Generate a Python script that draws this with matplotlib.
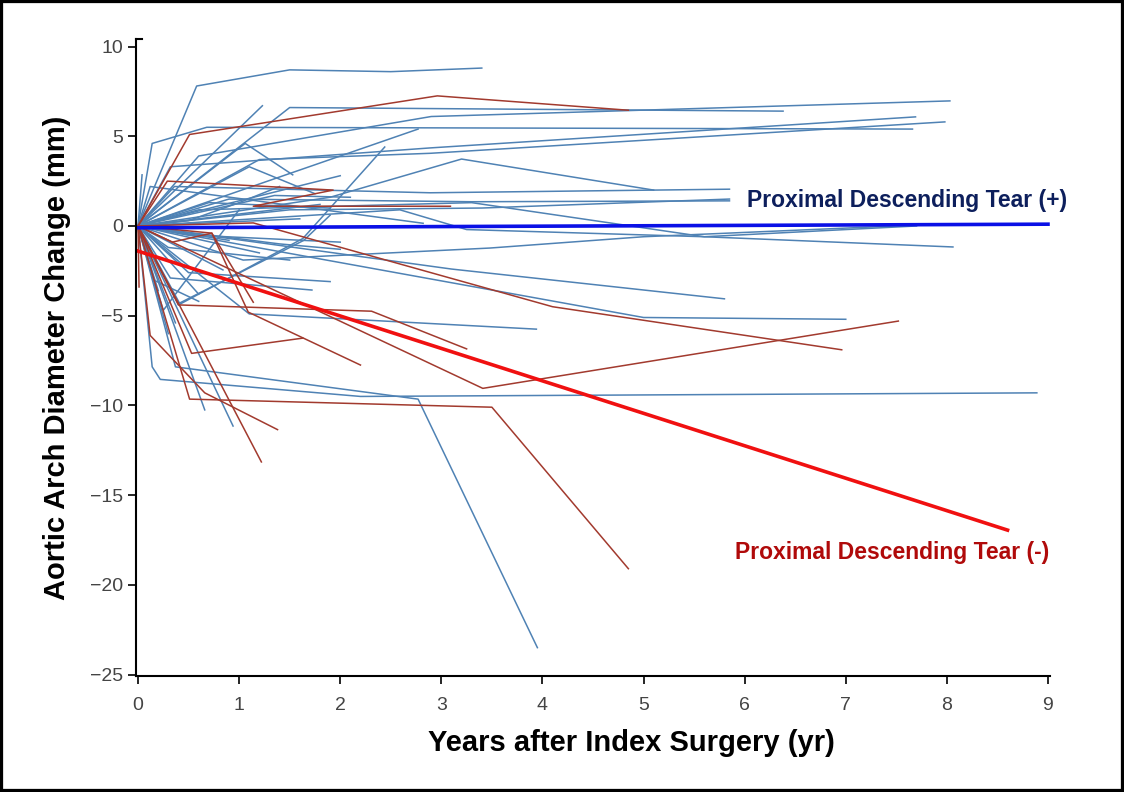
import matplotlib
matplotlib.use('Agg')
import matplotlib.pyplot as plt
from matplotlib.patches import Rectangle

plt.rcParams['font.family'] = ['Liberation Sans Narrow', 'Liberation Sans', 'DejaVu Sans']

# individual patient trajectories, tear (+) group (years, change in mm)
blue_years = [
    [0, 0.58, 1.5, 2.5, 3.4], [0, 0.14, 0.68, 7.66], [0, 1.5, 6.38], [0, 1.23],
    [0, 0.6, 2.9, 8.03], [0, 0.32, 2.89, 7.69], [0, 1.2, 2.89, 7.98], [0, 2.77],
    [0, 1.06, 1.53], [0, 0.4, 1.63, 2.44], [0, 2.0], [0, 1.9, 3.2, 5.1],
    [0, 0.36, 2.89, 5.85], [0, 0.9, 3.3, 5.85], [0, 0.12, 2.82], [0, 0.04],
    [0, 0.6, 3.3, 5.6, 7.7], [0, 2.59, 3.25, 5.6, 8.06], [0, 1.04, 3.48, 5.0, 7.7, 8.6],
    [0, 0.32, 1.72], [0, 1.1, 3.94], [0, 0.37], [0, 0.66], [0, 0.94], [0, 0.25, 1.0],
    [0, 0.14, 0.22, 2.2, 8.89], [0, 0.37, 2.77, 3.95], [0, 3.1, 5.8], [0, 5.0, 7.0],
    [0, 0.84], [0, 1.35, 2.1], [0, 0.7, 1.9], [0, 1.6], [0, 0.5, 2.0], [0, 1.2],
    [0, 0.6], [0, 0.3], [0, 1.1, 1.75], [0, 1.5, 3.4, 5.85], [0, 0.5, 1.0, 1.4],
    [0, 1.8], [0, 0.9], [0, 1.4, 2.0], [0, 0.45], [0, 0.2], [0, 0.41, 1.64, 1.9],
    [0, 0.3, 1.5], [0, 0.5, 1.9], [0, 0.15, 0.6],
]
blue_change = [
    [0, 7.8, 8.7, 8.6, 8.8], [0, 4.6, 5.5, 5.4], [0, 6.6, 6.4], [0, 6.7],
    [0, 3.9, 6.1, 6.97], [0, 3.3, 4.35, 6.08], [0, 3.7, 4.05, 5.8], [0, 5.4],
    [0, 4.6, 2.85], [0, -4.4, -0.7, 4.4], [0, 2.8], [0, 1.6, 3.73, 2.0],
    [0, 2.2, 1.85, 2.05], [0, 1.5, 1.35, 1.4], [0, 2.2, 0.15], [0, 2.85],
    [0, 0.9, 1.3, -0.6, 0.0], [0, 0.9, -0.2, -0.6, -1.17], [0, -1.9, -1.23, -0.6, 0.05, 0.12],
    [0, -2.9, -3.57], [0, -4.9, -5.75], [0, -5.4], [0, -10.25], [0, -11.15], [0, -4.7, 0.9],
    [0, -7.85, -8.55, -9.5, -9.3], [0, -7.85, -9.65, -23.5], [0, -2.4, -4.06], [0, -5.1, -5.2],
    [0, -2.45], [0, 1.7, 1.6], [0, 1.3, 1.0], [0, 0.4], [0, -0.5, -0.9], [0, -1.5],
    [0, -3.8], [0, -6.0], [0, 3.3, 1.8], [0, 0.9, 1.0, 1.5], [0, 0.3, 1.3, 2.2],
    [0, 1.2], [0, -0.8], [0, -1.0, -1.3], [0, -2.2], [0, -3.6], [0, -4.3, -0.8, 0.6],
    [0, -1.2, -1.9], [0, -2.6, -3.1], [0, -3.0, -4.2],
]

# individual patient trajectories, tear (-) group
red_years = [
    [0, 0.51, 2.96, 4.85], [0, 0.29, 1.93, 1.14, 3.09], [0, 1.14, 4.1, 6.96],
    [0, 3.41, 7.52], [0, 0.51, 3.5, 4.85], [0, 0.53, 1.63], [0, 0.4, 2.31, 3.25],
    [0, 0.34, 0.73, 1.09, 2.2], [0, 0.12, 0.66, 1.38], [0, 1.22], [0, 0.73, 1.14],
    [0, 0.01],
]
red_change = [
    [0, 5.1, 7.25, 6.45], [0, 2.5, 2.0, 1.1, 1.1], [0, 0.17, -4.5, -6.9],
    [0, -9.05, -5.3], [0, -9.65, -10.1, -19.1], [0, -7.1, -6.25], [0, -4.4, -4.75, -6.85],
    [0, -0.9, -0.4, -4.8, -7.75], [0, -6.1, -9.3, -11.35], [0, -13.15], [0, -0.4, -4.25],
    [0, -3.4],
]

# group mean trends
mean_pos_years = [0, 9.0]
mean_pos_change = [-0.1, 0.1]
mean_neg_years = [0, 8.6]
mean_neg_change = [-1.4, -16.95]

fig = plt.figure(figsize=(11.24, 7.92), dpi=100)
ax = fig.add_axes([136 / 1124, 1 - 676 / 792, 914 / 1124, 637 / 792])

for xs, ys in zip(blue_years, blue_change):
    ax.plot(xs, ys, color='#4f82b4', lw=1.1)
for xs, ys in zip(red_years, red_change):
    ax.plot(xs, ys, color='#a23a2e', lw=1.1)

ax.plot(mean_pos_years, mean_pos_change, color='#0a10e6', lw=2.6)
ax.plot(mean_neg_years, mean_neg_change, color='#f01010', lw=2.6)

ax.set_xlim(-0.02, 9.02)
ax.set_ylim(-25.08, 10.42)
ax.set_xticks(range(0, 10))
ax.set_yticks([-25, -20, -15, -10, -5, 0, 5, 10])
ax.set_yticklabels(['\u221225', '\u221220', '\u221215', '\u221210', '\u22125', '0', '5', '10'])
for s in ['top', 'right']:
    ax.spines[s].set_visible(False)
for s in ['left', 'bottom']:
    ax.spines[s].set_linewidth(1.5)
ax.tick_params(axis='both', direction='out', length=6, width=1.2,
               labelsize=14, labelcolor='#444444', pad=3)
ax.tick_params(axis='x', pad=9)
ax.plot([-0.02, 0.04], [10.42, 10.42], color='black', lw=1.5, clip_on=False)

fig.text(631 / 1124, 1 - 743 / 792, 'Years after Index Surgery (yr)',
         ha='center', va='center', fontsize=21, fontweight='bold')
fig.text(57 / 1124, 1 - 358 / 792, 'Aortic Arch Diameter Change (mm)',
         ha='center', va='center', rotation=90, fontsize=21, fontweight='bold')

fig.text(747 / 1124, 1 - 201 / 792, 'Proximal Descending Tear (+)',
         ha='left', va='center', fontsize=16.5, fontweight='bold', color='#0d1f5c')
fig.text(735 / 1124, 1 - 553 / 792, 'Proximal Descending Tear (-)',
         ha='left', va='center', fontsize=16.5, fontweight='bold', color='#b00a0a')

fig.add_artist(Rectangle((0, 0), 1, 1, transform=fig.transFigure,
                         fill=False, lw=4.5, edgecolor='black'))

fig.savefig('out.png', dpi=100)
